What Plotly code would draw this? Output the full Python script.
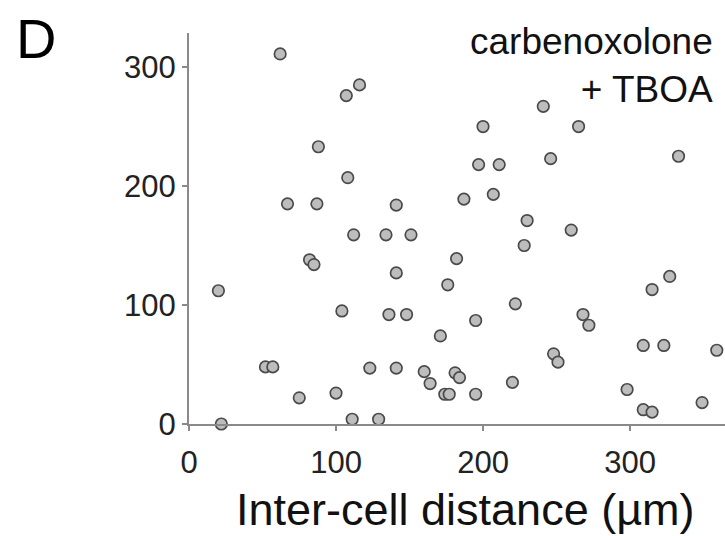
import plotly.graph_objects as go

# Inter-cell distance (µm)
distance = [62, 107, 116, 241, 200, 265, 88, 333, 246, 197, 211, 108, 207, 187,
            67, 87, 141, 230, 260, 112, 134, 151, 228, 182, 82, 85, 141, 327,
            176, 315, 20, 222, 104, 136, 148, 268, 195, 272, 171, 309, 323, 359,
            248, 251, 52, 57, 123, 141, 160, 181, 184, 164, 220, 298, 100, 174,
            177, 195, 75, 349, 309, 315, 111, 129, 22]
# y values
value = [311, 276, 285, 267, 250, 250, 233, 225, 223, 218, 218, 207, 193, 189,
         185, 185, 184, 171, 163, 159, 159, 159, 150, 139, 138, 134, 127, 124,
         117, 113, 112, 101, 95, 92, 92, 92, 87, 83, 74, 66, 66, 62,
         59, 52, 48, 48, 47, 47, 44, 43, 39, 34, 35, 29, 26, 25,
         25, 25, 22, 18, 12, 10, 4, 4, 0]

x_ticks = [0, 100, 200, 300]
y_ticks = [0, 100, 200, 300]
panel_label = "D"
condition = "carbenoxolone<br>+ TBOA"
x_title = "Inter-cell distance (µm)"

FONT = "Liberation Sans, Arial, sans-serif"
AXC = "#8a8a8a"

fig = go.Figure()
fig.add_trace(go.Scatter(
    x=distance, y=value, mode="markers", cliponaxis=False,
    marker=dict(size=11.5, color="#bdbdbd", line=dict(color="#4a4a4a", width=1.7)),
    showlegend=False,
))

fig.update_layout(
    width=725, height=536,
    margin=dict(l=189, r=0, t=33, b=112),
    paper_bgcolor="white", plot_bgcolor="white",
    font=dict(family=FONT, color="#111"),
    xaxis=dict(
        range=[0, 364.6], tickvals=x_ticks, showgrid=False, zeroline=False,
        showline=True, linecolor=AXC, linewidth=2,
        ticks="outside", ticklen=5, tickwidth=2, tickcolor=AXC,
        ticklabelstandoff=5,
        tickfont=dict(size=31, family=FONT, color="#222"),
    ),
    yaxis=dict(
        range=[0, 328.6], tickvals=y_ticks, showgrid=False, zeroline=False,
        showline=True, linecolor=AXC, linewidth=2,
        ticks="outside", ticklen=5, tickwidth=2, tickcolor=AXC,
        tickfont=dict(size=31, family=FONT, color="#222"),
    ),
    annotations=[
        dict(text=panel_label, xref="paper", yref="paper",
             x=(14 - 189) / 536, y=(424 - 5) / 391, xanchor="left", yanchor="top",
             showarrow=False, font=dict(size=56, family=FONT, color="#000")),
        dict(text=condition, xref="paper", yref="paper",
             x=(715 - 189) / 536, y=(424 - 19) / 391, xanchor="right", yanchor="top",
             align="right", showarrow=False,
             font=dict(size=37, family=FONT, color="#111")),
        dict(text=x_title, xref="paper", yref="paper",
             x=(465.5 - 189) / 536, y=(424 - 509) / 391, xanchor="center", yanchor="middle",
             showarrow=False, font=dict(size=45, family=FONT, color="#111")),
    ],
)

fig.write_html("out.html", config={"displayModeBar": False},
               post_script="document.body.style.margin='0';document.body.style.overflow='hidden';")
